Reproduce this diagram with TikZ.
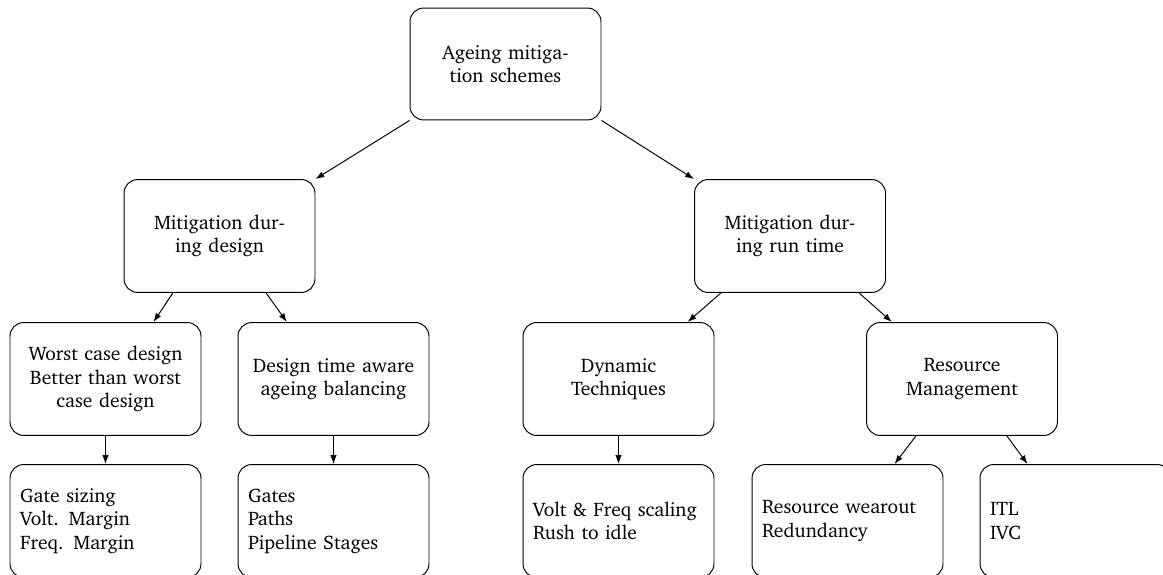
\documentclass[tikz,border=0pt]{standalone}
\usepackage[T1]{fontenc}
\usepackage{charter}
\usetikzlibrary{calc,arrows.meta}

\tikzset{
  box/.style={draw, line width=0.5pt, rounded corners=7pt,
    minimum width=97.4pt, minimum height=57.6pt,
    text width=87.2pt, inner xsep=5.1pt, inner ysep=2pt,
    font=\fontsize{10}{12}\selectfont},
  cbox/.style={box, align=center},
  lbox/.style={box, align=left},
  link/.style={line width=0.5pt, -{Latex[length=4.5pt,width=3.2pt]}},
}

\begin{document}
\begin{tikzpicture}[x=0.51pt, y=-0.51pt]
  \useasboundingbox (0,0) rectangle (1163,575);
  \clip (0,0) rectangle (1163,575);

  % level 0
  \node[cbox, minimum height=57.1pt] (root) at (505.5,64) {Ageing mitiga-\\tion schemes};

  % level 1
  \node[cbox] (mdes) at (219.5,236) {Mitigation dur-\\ing design};
  \node[cbox] (mrun) at (790,236) {Mitigation dur-\\ing run time};

  % level 2
  \node[cbox] (worst) at (105.5,379) {Worst case design\\Better than worst\\case design};
  \node[cbox] (dtime) at (333.5,379) {Design time aware\\ageing balancing};
  \node[cbox] (dyn) at (618.5,379) {Dynamic\\Techniques};
  \node[cbox] (rm) at (962,379) {Resource\\Management};

  % level 3
  \node[lbox] (gate) at (105.5,521) {Gate sizing\\Volt. Margin\\Freq. Margin};
  \node[lbox] (gates) at (333.5,521) {Gates\\Paths\\Pipeline Stages};
  \node[lbox] (volt) at (618.5,521) {Volt \& Freq scaling\\Rush to idle};
  \node[lbox] (rw) at (847.5,521) {Resource wearout\\Redundancy};
  \node[lbox] (itl) at (1075.5,521) {ITL\\IVC};

  % connectors
  \draw[link] (root.south west) -- (mdes.north east);
  \draw[link] (root.south east) -- (mrun.north west);

  \draw[link] ($(mdes.south west)!0.257!(mdes.south east)$) -- ($(worst.north west)!0.75!(worst.north east)$);
  \draw[link] ($(mdes.south west)!0.743!(mdes.south east)$) -- ($(dtime.north west)!0.257!(dtime.north east)$);
  \draw[link] ($(mrun.south west)!0.14!(mrun.south east)$) -- ($(dyn.north west)!0.86!(dyn.north east)$);
  \draw[link] ($(mrun.south west)!0.86!(mrun.south east)$) -- ($(rm.north west)!0.135!(rm.north east)$);

  \draw[link] (worst.south) -- (gate.north);
  \draw[link] (dtime.south) -- (gates.north);
  \draw[link] (dyn.south) -- (volt.north);
  \draw[link] ($(rm.south west)!0.26!(rm.south east)$) -- ($(rw.north west)!0.745!(rw.north east)$);
  \draw[link] ($(rm.south west)!0.734!(rm.south east)$) -- ($(itl.north west)!0.25!(itl.north east)$);
\end{tikzpicture}
\end{document}
